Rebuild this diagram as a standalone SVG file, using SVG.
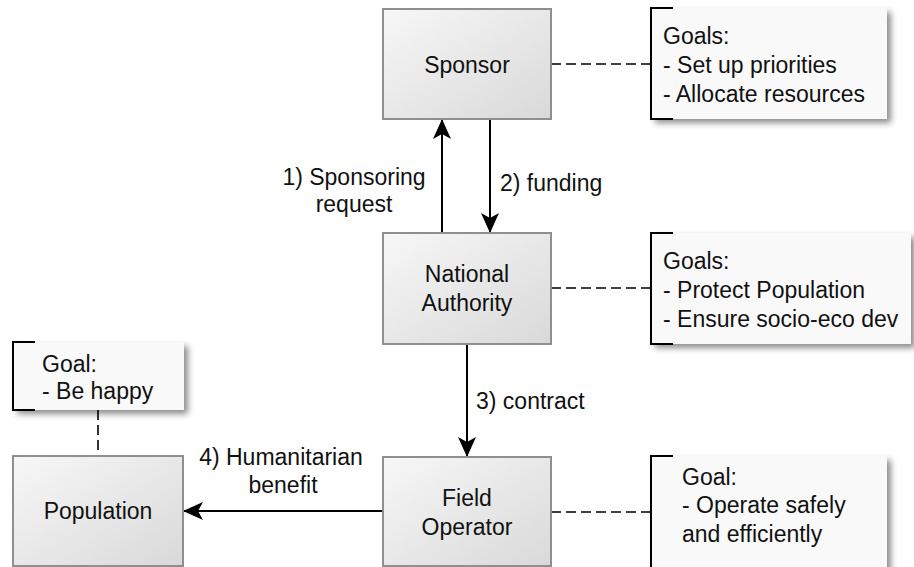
<svg xmlns="http://www.w3.org/2000/svg" width="914" height="567" viewBox="0 0 914 567">
<defs>
  <linearGradient id="boxg" x1="0" y1="0" x2="1" y2="1">
    <stop offset="0" stop-color="#f7f7f7"/>
    <stop offset="1" stop-color="#d9d9d9"/>
  </linearGradient>
  <filter id="shadow" x="-10%" y="-10%" width="130%" height="130%">
    <feGaussianBlur in="SourceAlpha" stdDeviation="3"/>
    <feOffset dx="4" dy="4" result="b"/>
    <feComponentTransfer><feFuncA type="linear" slope="0.45"/></feComponentTransfer>
    <feMerge><feMergeNode/><feMergeNode in="SourceGraphic"/></feMerge>
  </filter>
  <marker id="arrow" markerUnits="userSpaceOnUse" viewBox="0 0 20 18" markerWidth="20" markerHeight="18" refX="19" refY="9" orient="auto">
    <path d="M0,0 L20,9 L0,18 L5,9 Z" fill="#000"/>
  </marker>
</defs>
<style>
  .box { fill: url(#boxg); stroke: #8f8f8f; stroke-width: 2; }
  .note { fill: #f9f9f9; filter: url(#shadow); }
  .bracket { fill: none; stroke: #000; stroke-width: 2; }
  text { font-family: "Liberation Sans", Arial, sans-serif; font-size: 23px; fill: #111; }
  .c { text-anchor: middle; }
  .edge { fill: none; stroke: #000; stroke-width: 2; }
  .dash { fill: none; stroke: #000; stroke-width: 1.6; stroke-dasharray: 10 5; }
</style>

<g id="connectors">
  <line class="edge" x1="442" y1="233" x2="442" y2="120" marker-end="url(#arrow)"/>
  <line class="edge" x1="490" y1="119" x2="490" y2="232" marker-end="url(#arrow)"/>
  <line class="edge" x1="467" y1="344" x2="467" y2="456" marker-end="url(#arrow)"/>
  <line class="edge" x1="383" y1="511" x2="184" y2="511" marker-end="url(#arrow)"/>
  <line class="dash" x1="551" y1="64" x2="651" y2="64"/>
  <line class="dash" x1="551" y1="288" x2="651" y2="288"/>
  <line class="dash" x1="551" y1="512" x2="651" y2="512"/>
  <line class="dash" x1="98" y1="410" x2="98" y2="456"/>
  <text class="c" x="354" y="185">1) Sponsoring</text>
  <text class="c" x="354" y="212">request</text>
  <text x="500" y="191">2) funding</text>
  <text x="476" y="409">3) contract</text>
  <text class="c" x="281" y="465">4) Humanitarian</text>
  <text class="c" x="283" y="493">benefit</text>
</g>

<g id="sponsor">
  <rect class="box" x="383" y="9" width="168" height="110"/>
  <text class="c" x="467" y="73">Sponsor</text>
</g>

<g id="national-authority">
  <rect class="box" x="383" y="233" width="168" height="111"/>
  <text class="c" x="467" y="282">National</text>
  <text class="c" x="467" y="311">Authority</text>
</g>

<g id="field-operator">
  <rect class="box" x="383" y="457" width="168" height="109"/>
  <text class="c" x="467" y="506">Field</text>
  <text class="c" x="467" y="535">Operator</text>
</g>

<g id="population">
  <rect class="box" x="13" y="456" width="170" height="110"/>
  <text class="c" x="98" y="519">Population</text>
</g>

<g id="note-sponsor">
  <rect class="note" x="651" y="8" width="236" height="111"/>
  <path class="bracket" d="M673,8 H651 V119 H673"/>
  <text x="663" y="44">Goals:</text>
  <text x="663" y="73">- Set up priorities</text>
  <text x="663" y="102">- Allocate resources</text>
</g>

<g id="note-national-authority">
  <rect class="note" x="651" y="233" width="260" height="111"/>
  <path class="bracket" d="M673,233 H651 V344 H673"/>
  <text x="663" y="269">Goals:</text>
  <text x="663" y="298">- Protect Population</text>
  <text x="663" y="327">- Ensure socio-eco dev</text>
</g>

<g id="note-field-operator">
  <rect class="note" x="651" y="456" width="236" height="115"/>
  <path class="bracket" d="M673,456 H651 V567"/>
  <text x="682" y="485">Goal:</text>
  <text x="682" y="513">- Operate safely</text>
  <text x="682" y="542">and efficiently</text>
</g>

<g id="note-population">
  <rect class="note" x="13" y="342" width="171" height="68"/>
  <path class="bracket" d="M35,342 H13 V410 H35"/>
  <text x="42" y="372">Goal:</text>
  <text x="42" y="399">- Be happy</text>
</g>
</svg>
